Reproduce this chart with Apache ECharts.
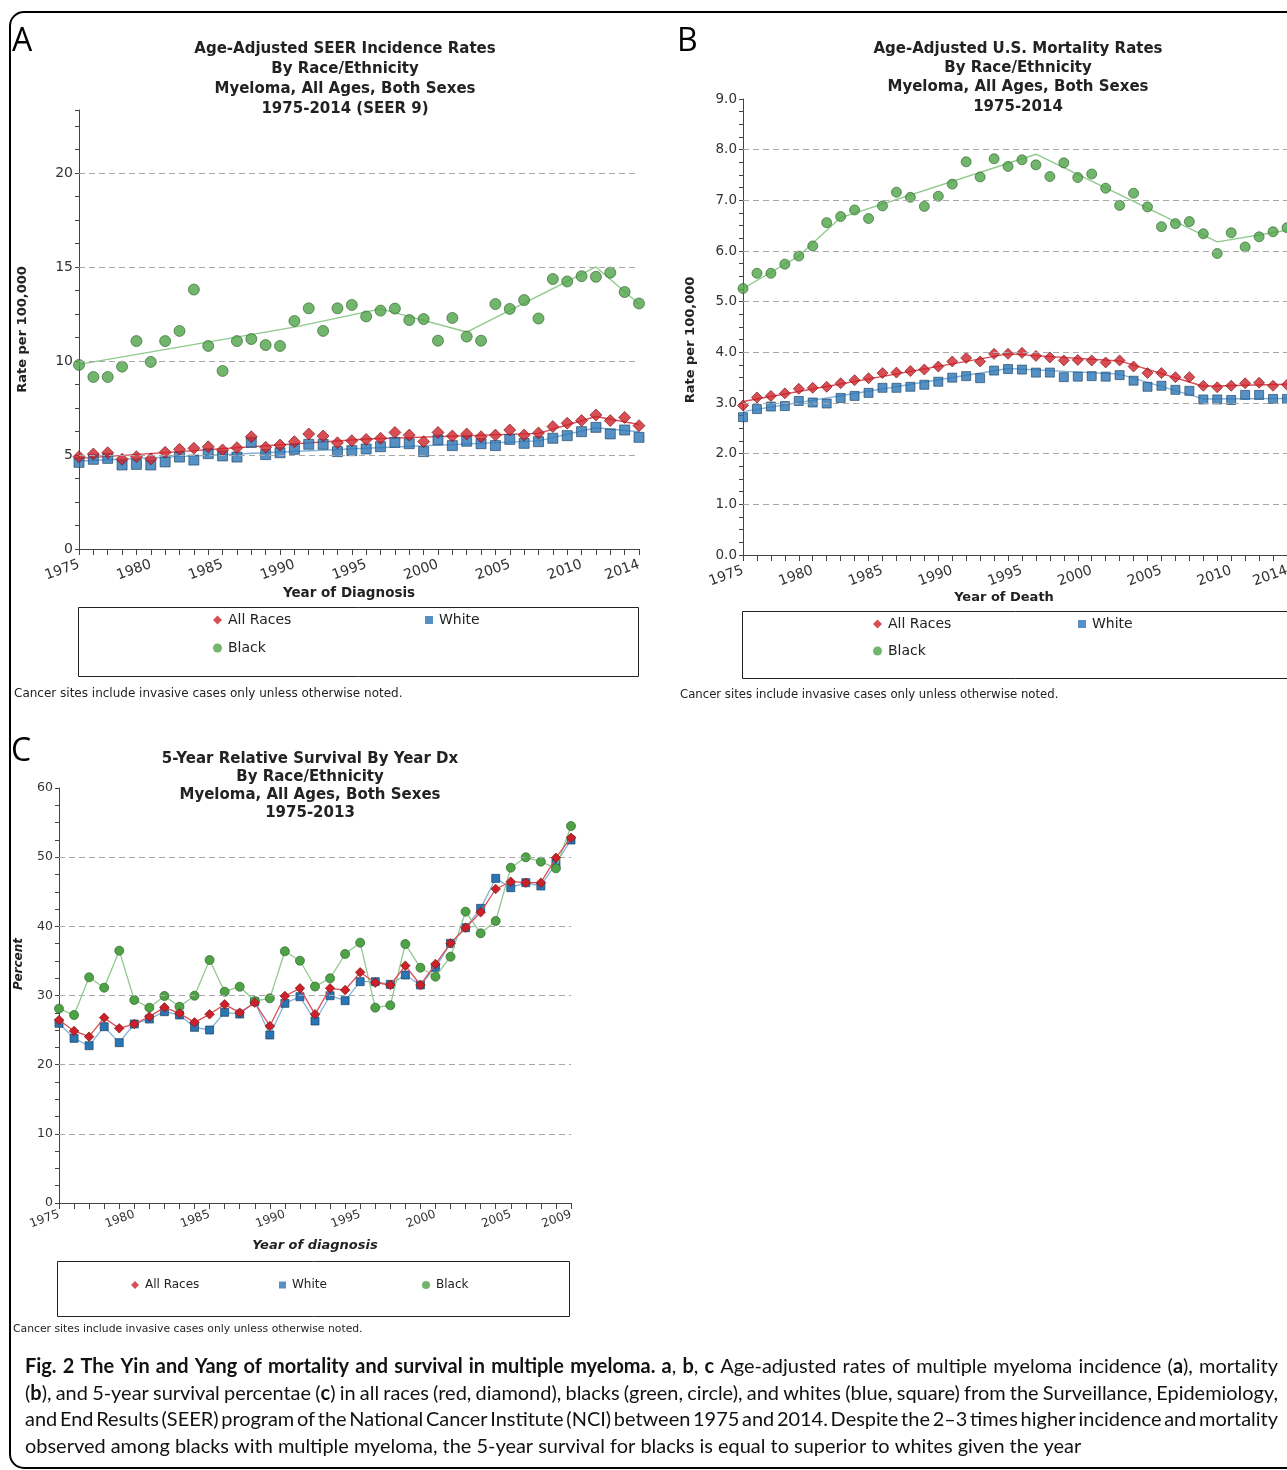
<!DOCTYPE html>
<html><head><meta charset="utf-8">
<script src="https://cdn.jsdelivr.net/npm/echarts@6/dist/echarts.min.js"></script>
<style>html,body{margin:0;padding:0;background:#fff}#c{width:1287px;height:1470px}</style>
</head><body><div id="c"></div>
<script>
// ---------- categories ----------
const yearsAB = []; for (let y = 1975; y <= 2014; y++) yearsAB.push(y);
const yearsC = []; for (let y = 1975; y <= 2009; y++) yearsC.push(y);

// ---------- Panel A: SEER incidence (rate per 100,000) ----------
const incidenceAll = [4.91,5.05,5.12,4.77,4.91,4.79,5.14,5.30,5.36,5.44, 5.27,5.39,5.97,5.41,5.53,5.71,6.12,6.01,5.65,5.76, 5.83,5.89,6.20,6.06,5.71,6.20,6.01,6.12,5.97,6.06, 6.33,6.06,6.17,6.51,6.69,6.83,7.13,6.83,7.00,6.56];
const incidenceWhite = [4.61,4.77,4.82,4.47,4.50,4.47,4.63,4.89,4.73,5.07, 4.95,4.89,5.67,5.02,5.12,5.30,5.57,5.57,5.18,5.23, 5.32,5.44,5.67,5.60,5.18,5.80,5.50,5.73,5.60,5.50, 5.83,5.62,5.71,5.89,6.03,6.24,6.47,6.12,6.33,5.94];
const incidenceBlack = [9.79,9.15,9.15,9.70,11.06,9.95,11.06,11.60,13.80,10.80, 9.47,11.06,11.17,10.85,10.80,12.13,12.80,11.60,12.80,12.98, 12.37,12.68,12.79,12.18,12.23,11.08,12.29,11.30,11.08,13.03, 12.77,13.24,12.26,14.36,14.23,14.51,14.48,14.70,13.67,13.06];
const incidenceTrendAll = [[1975,4.82],[1995,5.85],[2007,6.15],[2011,7.05],[2014,6.62]];
const incidenceTrendWhite = [[1975,4.68],[1995,5.36],[2007,5.75],[2011,6.45],[2014,6.24]];
const incidenceTrendBlack = [[1975,9.82],[1990,11.8],[1996,12.77],[2002,11.54],[2011,15.0],[2014,13.03]];

// ---------- Panel B: US mortality (rate per 100,000) ----------
const mortalityAll = [2.95,3.11,3.14,3.19,3.28,3.30,3.32,3.39,3.45,3.49, 3.59,3.60,3.63,3.66,3.72,3.82,3.89,3.82,3.97,3.97, 3.99,3.93,3.90,3.84,3.85,3.84,3.80,3.84,3.72,3.59, 3.59,3.51,3.51,3.34,3.31,3.34,3.39,3.40,3.34,3.36];
const mortalityWhite = [2.72,2.88,2.93,2.94,3.04,3.01,2.99,3.10,3.14,3.20, 3.30,3.30,3.32,3.36,3.42,3.50,3.53,3.49,3.64,3.67, 3.66,3.60,3.60,3.51,3.52,3.53,3.52,3.55,3.44,3.32, 3.34,3.26,3.24,3.07,3.07,3.06,3.16,3.16,3.08,3.08];
const mortalityBlack = [5.26,5.56,5.56,5.74,5.90,6.10,6.56,6.68,6.81,6.64, 6.89,7.16,7.06,6.88,7.08,7.32,7.76,7.46,7.82,7.67, 7.80,7.70,7.47,7.74,7.45,7.52,7.24,6.90,7.14,6.87, 6.48,6.54,6.58,6.34,5.95,6.36,6.08,6.28,6.38,6.46];
const mortalityTrendAll = [[1975,3.03],[1994,3.97],[2002,3.83],[2008,3.33],[2014,3.37]];
const mortalityTrendWhite = [[1975,2.83],[1994,3.68],[2002,3.57],[2008,3.08],[2014,3.09]];
const mortalityTrendBlack = [[1975,5.26],[1979,5.9],[1982,6.66],[1996,7.91],[2009,6.18],[2014,6.41]];

// ---------- Panel C: 5-year relative survival (%) ----------
const survivalAll = [26.46,24.87,24.05,26.79,25.25,25.88,26.94,28.29,27.42,26.12, 27.28,28.72,27.52,28.96,25.59,29.93,31.04,27.28,31.04,30.79, 33.35,31.85,31.52,34.31,31.52,34.55,37.54,39.80,42.03,45.40, 46.45,46.31,46.31,49.92,52.81];
const survivalWhite = [25.98,23.81,22.74,25.49,23.18,25.88,26.60,27.66,27.18,25.40, 25.01,27.57,27.32,29.10,24.29,28.87,29.83,26.31,29.97,29.25, 32.00,32.00,31.61,32.96,31.52,34.07,37.54,39.80,42.60,46.94, 45.59,46.31,45.83,49.11,52.48];
const survivalBlack = [28.10,27.18,32.63,31.13,36.48,29.35,28.24,29.93,28.38,29.97, 35.13,30.55,31.27,29.20,29.59,36.39,35.03,31.30,32.48,36.00, 37.64,28.24,28.58,37.44,34.02,32.72,35.61,42.12,38.99,40.77, 48.48,49.98,49.35,48.38,54.50];

// ---------- tick / gridline values ----------
const gridLinesA = [5, 10, 15, 20];
const gridLinesB = [1, 2, 3, 4, 5, 6, 7, 8];
const gridLinesC = [10, 20, 30, 40, 50];

// ---------- texts ----------
const titleA = ['Age-Adjusted SEER Incidence Rates','By Race/Ethnicity','Myeloma, All Ages, Both Sexes','1975-2014 (SEER 9)'];
const titleB = ['Age-Adjusted U.S. Mortality Rates','By Race/Ethnicity','Myeloma, All Ages, Both Sexes','1975-2014'];
const titleC = ['5-Year Relative Survival By Year Dx','By Race/Ethnicity','Myeloma, All Ages, Both Sexes','1975-2013'];
const noteText = 'Cancer sites include invasive cases only unless otherwise noted.';
const captionLines = [
  [['b','Fig. 2 The Yin and Yang of mortality and survival in multiple myeloma. a'],['r',', '],['b','b'],['r',', '],['b','c'],['r',' Age-adjusted rates of multiple myeloma incidence ('],['b','a'],['r','), mortality']],
  [['r','('],['b','b'],['r','), and 5-year survival percentae ('],['b','c'],['r',') in all races (red, diamond), blacks (green, circle), and whites (blue, square) from the Surveillance, Epidemiology,']],
  [['r','and End Results (SEER) program of the National Cancer Institute (NCI) between 1975 and 2014. Despite the 2\u20133 times higher incidence and mortality']],
  [['r','observed among blacks with multiple myeloma, the 5-year survival for blacks is equal to superior to whites given the year']]
];

// ---------- styling ----------
const F = 'DejaVu Sans';
const COL = {
  all:   {fill:'#cf2029', stroke:'#701517', line:'#dc4d55'},
  white: {fill:'#2a76b5', stroke:'#1a3f60', line:'#82b2da'},
  black: {fill:'#4fa347', stroke:'#2b6127', line:'#8fca8c'}
};
const TXT = '#222';

function pairs(xs, ys) { return xs.map((x, i) => [x, ys[i]]); }
function yFmt(step, dec) {
  return v => { const r = Math.round(v / step) * step; if (Math.abs(v - r) > 1e-6) return ''; return dec ? r.toFixed(dec) : String(r); };
}
function xFmt(last) { return v => (v % 5 === 0 || v === last) ? String(v) : ''; }

function xAxis(gi, min, max, name, gap, fs, margin, nameStyle) {
  return {
    type:'value', gridIndex:gi, min, max, interval:1,
    name, nameLocation:'middle', nameGap:gap,
    nameTextStyle:Object.assign({fontFamily:F, fontWeight:'bold', fontSize:14, color:TXT}, nameStyle || {}),
    axisLine:{show:true, lineStyle:{color:'#444', width:1}},
    axisTick:{show:true, length:6, lineStyle:{color:'#444'}},
    axisLabel:{rotate:20, margin, fontFamily:F, fontSize:fs, color:'#333', formatter:xFmt(max), hideOverlap:false},
    splitLine:{show:false}
  };
}
function yAxis(gi, max, interval, fmt, fs, name, gap, namePad) {
  const a = {
    type:'value', gridIndex:gi, min:0, max, interval,
    axisLine:{show:true, lineStyle:{color:'#444', width:1}},
    axisTick:{show:true, length:4, lineStyle:{color:'#444'}},
    axisLabel:{fontFamily:F, fontSize:fs, color:'#333', margin:6, formatter:fmt, showMaxLabel:true},
    splitLine:{show:false}
  };
  if (name) {
    a.name = name; a.nameLocation = 'middle'; a.nameGap = gap;
    a.nameTextStyle = {fontFamily:F, fontWeight:'bold', fontSize:13, color:TXT, padding:namePad || 0};
  }
  return a;
}
function gridMark(values) {
  return {silent:true, symbol:'none', animation:false, label:{show:false},
    lineStyle:{type:[6,4], color:'#a8a8a8', width:1},
    data: values.map(v => ({yAxis:v}))};
}
function scatterS(name, gi, xs, ys, sym, size, col) {
  return {type:'scatter', name, xAxisIndex:gi, yAxisIndex:gi, data:pairs(xs, ys), symbol:sym, symbolSize:size,
    itemStyle:{color:col.fill, borderColor:col.stroke, borderWidth:0.8}, z:4, emphasis:{disabled:true}};
}
function trendS(name, gi, pts, col, marks) {
  const s = {type:'line', name, xAxisIndex:gi, yAxisIndex:gi, data:pts, symbol:'none', showSymbol:false,
    lineStyle:{color:col.line, width:1.4}, z:2, emphasis:{disabled:true}};
  if (marks) s.markLine = gridMark(marks);
  return s;
}
function lineS(name, gi, xs, ys, sym, size, col, z) {
  return {type:'line', name, xAxisIndex:gi, yAxisIndex:gi, data:pairs(xs, ys), symbol:sym, symbolSize:size, showSymbol:true,
    lineStyle:{color:col.line, width:1.3}, itemStyle:{color:col.fill, borderColor:col.stroke, borderWidth:0.7}, z, emphasis:{disabled:true}};
}
function legendItem(name, icon, left, top, fs, size) {
  return {data:[{name, icon}], left, top, padding:0, itemWidth:size, itemHeight:size, itemGap:5, selectedMode:false,
    itemStyle:{borderWidth:0}, textStyle:{fontFamily:F, fontSize:fs, color:TXT, padding:[0,0,0,1]}};
}
function titleText(lines, cx, y0, lh, fs) {
  return {type:'text', x:cx, y:y0, silent:true, style:{text:lines.join('\n'), fontFamily:F, fontWeight:'bold', fontSize:fs, lineHeight:lh, fill:TXT, align:'center', verticalAlign:'top'}};
}
function plainText(text, x, y, fs, extra) {
  return {type:'text', x, y, silent:true, style:Object.assign({text, fontFamily:F, fontSize:fs, fill:TXT, align:'left', verticalAlign:'middle'}, extra || {})};
}

// ---------- caption layout (justified by word spacing) ----------
const CAP_FONT = 'Lato';
const ctx = document.createElement('canvas').getContext('2d');
function measure(t, bold, fs) { ctx.font = (bold ? 'bold ' : '') + fs + 'px "' + CAP_FONT + '"'; return ctx.measureText(t).width; }
function lineWords(runs) {
  const words = []; let cur = [];
  runs.forEach(([st, txt]) => {
    const parts = txt.split(' ');
    parts.forEach((p, i) => {
      if (i > 0) { if (cur.length) words.push(cur); cur = []; }
      if (p.length) cur.push([st, p]);
    });
  });
  if (cur.length) words.push(cur);
  return words;
}
let natural = 0; { const ws = lineWords(captionLines[3]); ws.forEach(w => w.forEach(([st, t]) => natural += measure(t, st === 'b', 100))); natural += (ws.length - 1) * measure(' ', false, 100); }
const capFs = 100 * 1057 / natural;
const capX0 = 25, capX1 = 1278, capYs = [1367, 1394, 1420, 1447];
const captionEls = [];
captionLines.forEach((runs, li) => {
  const ws = lineWords(runs);
  const wWidths = ws.map(w => w.reduce((s, [st, t]) => s + measure(t, st === 'b', capFs), 0));
  const total = wWidths.reduce((a, b) => a + b, 0);
  const gap = li < 3 ? (capX1 - capX0 - total) / (ws.length - 1) : measure(' ', false, capFs);
  let x = capX0;
  ws.forEach(w => {
    w.forEach(([st, t]) => {
      captionEls.push({type:'text', x, y:capYs[li], silent:true, style:{text:t, fontFamily:CAP_FONT, fontSize:capFs, fontWeight: st === 'b' ? 'bold' : 'normal', fill:'#111', align:'left', verticalAlign:'middle'}});
      x += measure(t, st === 'b', capFs);
    });
    x += gap;
  });
});

const option = {
  animation:false,
  backgroundColor:'#ffffff',
  grid:[
    {left:79, top:110, width:560, height:439, containLabel:false, outerBoundsMode:'none'},
    {left:743, top:99, width:544, height:456, containLabel:false, outerBoundsMode:'none'},
    {left:59, top:788, width:512, height:415, containLabel:false, outerBoundsMode:'none'}
  ],
  xAxis:[
    xAxis(0, 1975, 2014, 'Year of Diagnosis', 37, 14, 15, {fontSize:13.5, padding:[0,20,0,0]}),
    xAxis(1, 1975, 2014, 'Year of Death', 35, 14, 15, {fontSize:13, padding:[0,22,0,0]}),
    xAxis(2, 1975, 2009, 'Year of diagnosis', 36, 12, 11, {fontStyle:'italic', fontSize:13})
  ],
  yAxis:[
    yAxis(0, 23.35, 1.25, yFmt(5, 0), 14, 'Rate per 100,000', 50),
    yAxis(1, 9, 0.25, yFmt(1, 1), 13.5, 'Rate per 100,000', 46, [0,26,0,0]),
    yAxis(2, 60, 2.5, yFmt(10, 0), 12.5)
  ],
  legend:[
    legendItem('All Races', 'diamond', 213, 613, 14, 9),
    legendItem('White', 'rect', 425, 613, 14, 8),
    legendItem('Black', 'circle', 213, 641, 14, 9),
    legendItem('All Races', 'diamond', 873, 617, 14, 9),
    legendItem('White', 'rect', 1078, 617, 14, 8),
    legendItem('Black', 'circle', 873, 644, 14, 9),
    legendItem('All Races', 'diamond', 131, 1279, 12, 8),
    legendItem('White', 'rect', 279, 1279, 12, 7),
    legendItem('Black', 'circle', 422, 1279, 12, 8)
  ],
  series:[
    // Panel A
    trendS('Black trend A', 0, incidenceTrendBlack, COL.black, gridLinesA),
    trendS('All Races trend A', 0, incidenceTrendAll, COL.all),
    trendS('White trend A', 0, incidenceTrendWhite, COL.white),
    scatterS('Black', 0, yearsAB, incidenceBlack, 'circle', 11, COL.black),
    scatterS('White', 0, yearsAB, incidenceWhite, 'rect', 10, COL.white),
    scatterS('All Races', 0, yearsAB, incidenceAll, 'diamond', 12, COL.all),
    // Panel B
    trendS('Black trend B', 1, mortalityTrendBlack, COL.black, gridLinesB),
    trendS('All Races trend B', 1, mortalityTrendAll, COL.all),
    trendS('White trend B', 1, mortalityTrendWhite, COL.white),
    scatterS('Black', 1, yearsAB, mortalityBlack, 'circle', 10, COL.black),
    scatterS('White', 1, yearsAB, mortalityWhite, 'rect', 9, COL.white),
    scatterS('All Races', 1, yearsAB, mortalityAll, 'diamond', 11, COL.all),
    // Panel C
    Object.assign(lineS('White', 2, yearsC, survivalWhite, 'rect', 8, COL.white, 3), {markLine:gridMark(gridLinesC)}),
    lineS('Black', 2, yearsC, survivalBlack, 'circle', 9, COL.black, 4),
    lineS('All Races', 2, yearsC, survivalAll, 'diamond', 9.5, COL.all, 5)
  ],
  graphic:[
    {type:'rect', silent:true, shape:{x:10, y:12, width:1300, height:1456, r:14}, style:{fill:'none', stroke:'#000', lineWidth:2}, z:-1},
    plainText('A', 12, 42, 32, {fontFamily:'Open Sans', fill:'#000'}),
    plainText('B', 677, 42, 32, {fontFamily:'Open Sans', fill:'#000'}),
    plainText('C', 11, 752, 32, {fontFamily:'Open Sans', fill:'#000'}),
    titleText(titleA, 345, 39, 20, 15),
    titleText(titleB, 1018, 39.5, 19.2, 15),
    titleText(titleC, 310, 750, 18, 15),
    {type:'rect', silent:true, shape:{x:78.5, y:607.5, width:560, height:69}, style:{fill:'none', stroke:'#222', lineWidth:1}},
    {type:'rect', silent:true, shape:{x:742.5, y:611.5, width:600, height:67}, style:{fill:'none', stroke:'#222', lineWidth:1}},
    {type:'rect', silent:true, shape:{x:57.5, y:1261.5, width:512, height:55}, style:{fill:'none', stroke:'#222', lineWidth:1}},
    plainText(noteText, 14, 694, 12),
    plainText(noteText, 680, 695, 11.7),
    plainText(noteText, 13, 1329, 10.8),
    {type:'text', x:19, y:964, rotation:Math.PI / 2, silent:true, style:{text:'Percent', fontFamily:F, fontSize:12, fontWeight:'bold', fontStyle:'italic', fill:TXT, align:'center', verticalAlign:'middle'}}
  ].concat(captionEls)
};

const chart = echarts.init(document.getElementById('c'), null, {renderer:'canvas', width:1287, height:1470});
chart.setOption(option);
</script>
</body></html>
